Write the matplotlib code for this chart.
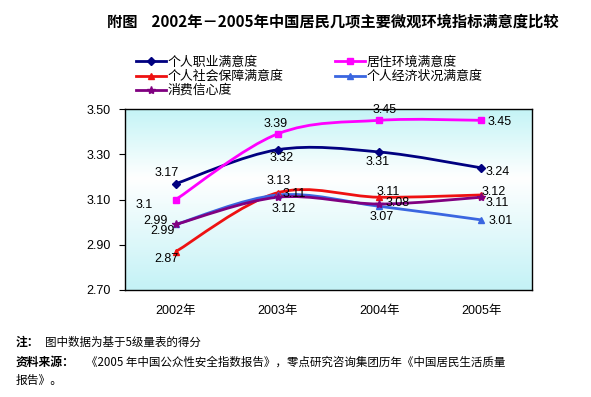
import numpy as np
import matplotlib
matplotlib.use("Agg")
import matplotlib.pyplot as plt
from matplotlib.path import Path
from matplotlib.patches import PathPatch
from matplotlib.lines import Line2D
from matplotlib.colors import LinearSegmentedColormap

plt.rcParams['font.family'] = ['Liberation Sans', 'Noto Sans CJK SC', 'DejaVu Sans']

years = ["2002年", "2003年", "2004年", "2005年"]
series_names = ["个人职业满意度", "居住环境满意度", "个人社会保障满意度", "个人经济状况满意度", "消费信心度"]
job = [3.17, 3.32, 3.31, 3.24]
living = [3.10, 3.39, 3.45, 3.45]
social = [2.87, 3.13, 3.11, 3.12]
economic = [2.99, 3.12, 3.07, 3.01]
confidence = [2.99, 3.11, 3.08, 3.11]
label_texts = [
    ["3.17", "3.32", "3.31", "3.24"],
    ["3.1", "3.39", "3.45", "3.45"],
    ["2.87", "3.13", "3.11", "3.12"],
    ["2.99", "3.12", "3.07", "3.01"],
    ["2.99", "3.11", "3.08", "3.11"],
]
yticks = [2.70, 2.90, 3.10, 3.30, 3.50]

all_series = [job, living, social, economic, confidence]
colors = ["#000080", "#FF00FF", "#EE1111", "#3A66E0", "#800080"]
markers = ["D", "s", "^", "^", "*"]
msizes = [4, 5, 5, 5, 6]
# label offsets in pixels (dx, dy)
offsets = [
    [(-9, 11), (4, -8), (-2, -10), (17, -4)],
    [(-32, -5), (-2, 10), (5, 10), (18, -2)],
    [(-9, -7), (1, 12), (9, 5), (13, 3)],
    [(-13, -7), (6, -14), (2, -11), (20, -1)],
    [(-20, 3), (17, 3), (18, 1), (16, -6)],
]

W, H = 591, 397
fig = plt.figure(figsize=(W / 100, H / 100), dpi=100)
ax = fig.add_axes([125 / W, 1 - 290 / H, 407 / W, 181 / H])

xs = np.arange(len(years)) + 0.5
ax.set_xlim(0, len(years))
ax.set_ylim(2.70, 3.50)

# gradient background
grad = np.linspace(0, 1, 256).reshape(-1, 1)
cmap = LinearSegmentedColormap.from_list("bg", [(0, "#C4F2F6"), (0.62, "#FFFFFF"), (1.0, "#C4F4F6")])
ax.imshow(grad, aspect='auto', cmap=cmap, extent=[0, len(years), 2.70, 3.50], origin='lower', zorder=0)


def smooth_path(x, y):
    pts = np.column_stack([x, y])
    n = len(pts)
    verts = [pts[0]]
    codes = [Path.MOVETO]
    for i in range(n - 1):
        p0 = pts[i - 1] if i > 0 else pts[i]
        p1 = pts[i]
        p2 = pts[i + 1]
        p3 = pts[i + 2] if i + 2 < n else pts[i + 1]
        c1 = p1 + (p2 - p0) / 6.0
        c2 = p2 - (p3 - p1) / 6.0
        verts += [c1, c2, p2]
        codes += [Path.CURVE4] * 3
    return Path(verts, codes)


for vals, col, mk, ms, labs, offs in zip(all_series, colors, markers, msizes, label_texts, offsets):
    patch = PathPatch(smooth_path(xs, np.array(vals)), facecolor='none', edgecolor=col, lw=2, zorder=3)
    ax.add_patch(patch)
    ax.plot(xs, vals, linestyle='none', marker=mk, color=col, markersize=ms, zorder=4)
    for x, v, t, (dx, dy) in zip(xs, vals, labs, offs):
        ax.annotate(t, (x, v), xytext=(dx, dy), textcoords='offset pixels',
                    ha='center', va='center', fontsize=9, color='black', zorder=5)

ax.set_yticks(yticks)
ax.set_yticklabels([f"{v:.2f}" for v in yticks], fontsize=9)
ax.set_xticks(xs)
ax.set_xticklabels(years, fontsize=9)
ax.tick_params(axis='x', length=0, pad=11)
ax.tick_params(axis='y', length=4, direction='out', pad=6)
for s in ax.spines.values():
    s.set_color('black')
    s.set_linewidth(1)

# legend (row-major: job, living / social, economic / confidence)
handles = [Line2D([0], [0], color=c, lw=2, marker=m, markersize=ms)
           for c, m, ms in zip(colors, markers, msizes)]
order = [0, 2, 4, 1, 3]
leg = fig.legend([handles[i] for i in order], [series_names[i] for i in order], ncol=2,
                 loc='upper left', bbox_to_anchor=(136 / W, 1 - 56 / H), frameon=False,
                 prop={'family': ['Noto Sans CJK SC'], 'size': 9.3},
                 handlelength=2.3, handletextpad=0.15, columnspacing=4.0, labelspacing=0.08,
                 borderpad=0, borderaxespad=0)

fig.text(333 / W, 1 - 22 / H, "附图    2002年－2005年中国居民几项主要微观环境指标满意度比较",
         ha='center', va='center', fontsize=11, fontweight='bold',
         family=['Noto Sans CJK SC'])

cjk = ['Noto Sans CJK SC', 'DejaVu Sans']
fig.text(16 / W, 1 - 342 / H, "注：", ha='left', va='center', fontsize=8.5, fontweight='bold', family=cjk)
fig.text(45 / W, 1 - 342 / H, "图中数据为基于5级量表的得分", ha='left', va='center', fontsize=8.3, family=cjk)
fig.text(16 / W, 1 - 362 / H, "资料来源：", ha='left', va='center', fontsize=8.5, fontweight='bold', family=cjk)
fig.text(86 / W, 1 - 362 / H, "《2005 年中国公众性安全指数报告》，零点研究咨询集团历年《中国居民生活质量",
         ha='left', va='center', fontsize=8.3, family=cjk)
fig.text(16 / W, 1 - 380 / H, "报告》。", ha='left', va='center', fontsize=8.5, family=cjk)

fig.savefig("out.png", dpi=100, facecolor='white')
